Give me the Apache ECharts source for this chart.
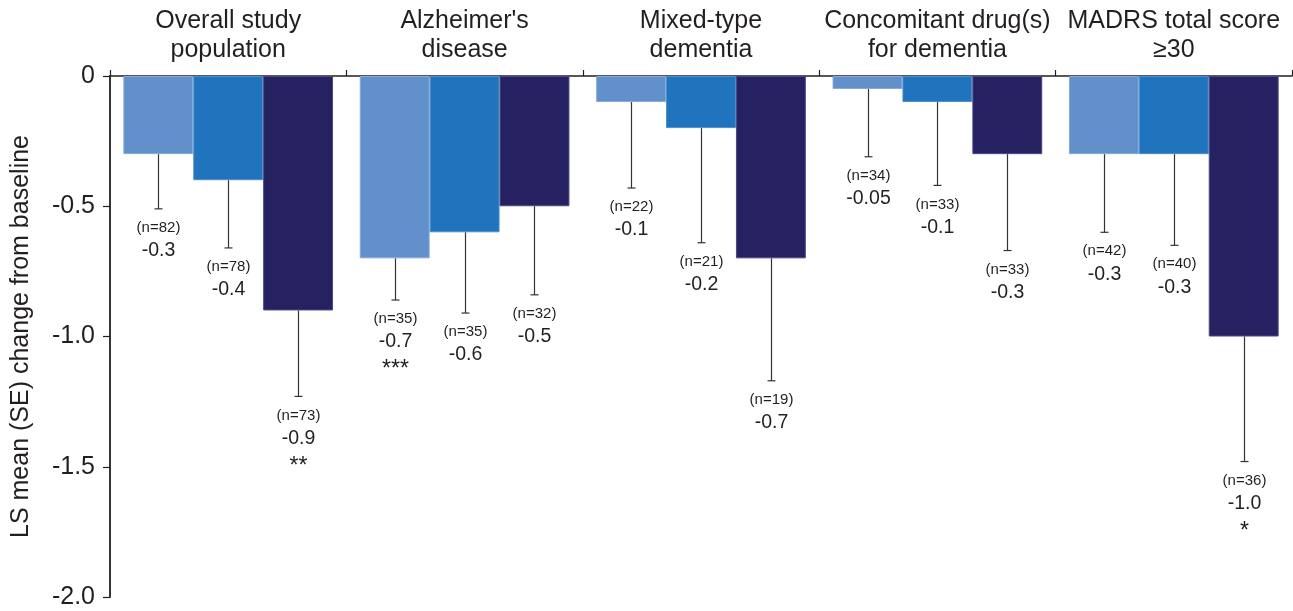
<!DOCTYPE html>
<html>
<head>
<meta charset="utf-8">
<script src="https://cdn.jsdelivr.net/npm/echarts@6/dist/echarts.min.js"></script>
<style>
html,body{margin:0;padding:0;background:#fff;}
#chart{width:1293px;height:611px;}
</style>
</head>
<body>
<div id="chart"></div>
<script>
const categories = ['Overall study\npopulation', "Alzheimer's\ndisease", 'Mixed-type\ndementia', 'Concomitant drug(s)\nfor dementia', 'MADRS total score\n≥30'];
const yTicks = [0, -0.5, -1.0, -1.5, -2.0];

const mean1 = [-0.3, -0.7, -0.1, -0.05, -0.3];
const se1   = [0.21, 0.16, 0.33, 0.26, 0.30];
const n1    = [82, 35, 22, 34, 42];
const sig1  = ['', '***', '', '', ''];

const mean2 = [-0.4, -0.6, -0.2, -0.1, -0.3];
const se2   = [0.26, 0.31, 0.44, 0.32, 0.35];
const n2    = [78, 35, 21, 33, 40];
const sig2  = ['', '', '', '', ''];

const mean3 = [-0.9, -0.5, -0.7, -0.3, -1.0];
const se3   = [0.33, 0.34, 0.47, 0.37, 0.48];
const n3    = [73, 32, 19, 33, 36];
const sig3  = ['**', '', '', '', '*'];

const colors = ['#6190CB', '#1F74BD', '#262262'];
const borders = ['#86aad9', '#4d8fcb', '#4a4787'];
const GAP = 0.113;
const FONT = '"Liberation Sans", Arial, Helvetica, sans-serif';
const TXT = '#231f20';

function fmt(v) {
  return Math.abs(v * 10 - Math.round(v * 10)) < 1e-9 ? v.toFixed(1) : v.toFixed(2);
}

const groups = [
  {mean: mean1, se: se1, n: n1, sig: sig1},
  {mean: mean2, se: se2, n: n2, sig: sig2},
  {mean: mean3, se: se3, n: n3, sig: sig3}
];

const series = [];
groups.forEach((g, s) => {
  series.push({
    type: 'bar',
    data: g.mean,
    barGap: '0%',
    barCategoryGap: (GAP * 100) + '%',
    itemStyle: {color: colors[s], borderColor: borders[s], borderWidth: 1},
    silent: true,
    z: 2
  });
});
groups.forEach((g, s) => {
  series.push({
    type: 'custom',
    clip: false,
    z: 5,
    silent: true,
    data: g.mean.map((m, i) => [i, m, m - g.se[i]]),
    renderItem: function (params, api) {
      const i = params.dataIndex;
      const cat = api.value(0);
      const m = api.value(1);
      const lo = api.value(2);
      const band = api.size([1, 0])[0];
      const barW = band * (1 - GAP) / 3;
      const p0 = api.coord([cat, m]);
      const p1 = api.coord([cat, lo]);
      const x = Math.round(p0[0] + (s - 1) * barW) + 0.5;
      const y1 = p1[1];
      const lineStyle = {stroke: '#333', lineWidth: 1.2};
      const children = [
        {type: 'line', shape: {x1: x, y1: p0[1], x2: x, y2: y1}, style: lineStyle},
        {type: 'line', shape: {x1: x - 4, y1: y1, x2: x + 4, y2: y1}, style: lineStyle},
        {type: 'text', style: {text: '(n=' + g.n[i] + ')', x: x, y: y1 + 19, align: 'center', verticalAlign: 'middle', fill: TXT, font: '15px ' + FONT}},
        {type: 'text', style: {text: fmt(m), x: x, y: y1 + 42, align: 'center', verticalAlign: 'middle', fill: TXT, font: '19.5px ' + FONT}}
      ];
      if (g.sig[i]) {
        children.push({type: 'text', style: {text: g.sig[i], x: x, y: y1 + 70, align: 'center', verticalAlign: 'middle', fill: TXT, font: '23px ' + FONT}});
      }
      return {type: 'group', children: children};
    }
  });
});

const chart = echarts.init(document.getElementById('chart'), null, {renderer: 'canvas'});
chart.setOption({
  animation: false,
  backgroundColor: '#fff',
  grid: {left: 110, right: 1, top: 76, bottom: 14},
  xAxis: {
    type: 'category',
    position: 'top',
    data: categories,
    axisLine: {show: true, onZero: false, lineStyle: {color: '#231f20', width: 1.5}},
    axisTick: {show: true, length: 6, lineStyle: {color: '#231f20', width: 1.2}},
    axisLabel: {fontSize: 25, lineHeight: 29, margin: 11, color: TXT, fontFamily: FONT, interval: 0}
  },
  yAxis: {
    type: 'value',
    min: -2,
    max: 0,
    interval: 0.5,
    name: 'LS mean (SE) change from baseline',
    nameLocation: 'middle',
    nameGap: 76,
    nameRotate: 90,
    nameTextStyle: {fontSize: 25, color: TXT, fontFamily: FONT},
    axisLine: {show: true, lineStyle: {color: '#231f20', width: 1.8}},
    axisTick: {show: true, length: 7, lineStyle: {color: '#231f20', width: 1.2}},
    splitLine: {show: false},
    axisLabel: {
      fontSize: 25, margin: 15, color: TXT, fontFamily: FONT,
      formatter: function (v) {
        const t = yTicks.find(k => Math.abs(k - v) < 1e-9);
        return t === 0 ? '0' : t.toFixed(1);
      }
    }
  },
  series: series
});
</script>
</body>
</html>
